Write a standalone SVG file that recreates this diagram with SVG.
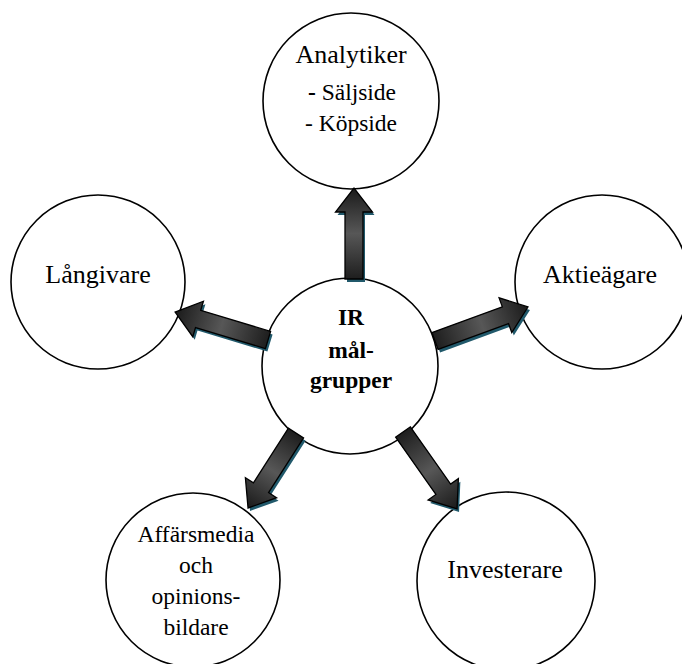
<svg xmlns="http://www.w3.org/2000/svg" width="682" height="664" viewBox="0 0 682 664">
  <defs>
    <linearGradient id="arrowFill" x1="0" y1="0" x2="1" y2="0">
      <stop offset="0" stop-color="#1e1e1e"/>
      <stop offset="0.5" stop-color="#575757"/>
      <stop offset="1" stop-color="#1a1a1a"/>
    </linearGradient>
  </defs>
  <style>
    .node circle { fill: #ffffff; stroke: #000000; stroke-width: 1.6; }
    .label { font-family: "Liberation Serif", "Times New Roman", serif; fill: #000000; text-anchor: middle; }
    .big { font-size: 26px; }
    .mid { font-size: 23.5px; }
    .hub { font-size: 23.5px; font-weight: bold; }
    .arrow { fill: url(#arrowFill); stroke: #000000; stroke-width: 1.3; stroke-linejoin: miter; }
    .shadow { fill: #21596b; stroke: none; }
  </style>
  <rect width="682" height="664" fill="#ffffff"/>

  <g id="analytiker" class="node">
    <circle cx="351" cy="101" r="88"/>
    <text class="label big" x="351" y="63">Analytiker</text>
    <text class="label mid" x="352" y="100"><tspan font-weight="bold">-</tspan> Säljside</text>
    <text class="label mid" x="351" y="131">- Köpside</text>
  </g>

  <g id="langivare" class="node">
    <circle cx="98" cy="282" r="87"/>
    <text class="label big" x="98" y="283">Långivare</text>
  </g>

  <g id="aktieagare" class="node">
    <circle cx="602" cy="282" r="87"/>
    <text class="label big" x="600" y="283">Aktieägare</text>
  </g>

  <g id="affarsmedia" class="node">
    <circle cx="193" cy="580" r="87"/>
    <text class="label mid" x="196" y="542">Affärsmedia</text>
    <text class="label mid" x="196" y="573">och</text>
    <text class="label mid" x="196" y="604">opinions-</text>
    <text class="label mid" x="196" y="635">bildare</text>
  </g>

  <g id="investerare" class="node">
    <circle cx="506" cy="581" r="89"/>
    <text class="label big" x="505" y="578">Investerare</text>
  </g>

  <g id="ir-malgrupper" class="node">
    <circle cx="350" cy="366" r="88"/>
    <text class="label hub" x="351" y="325">IR</text>
    <text class="label hub" x="351" y="358">mål-</text>
    <text class="label hub" x="351" y="388">grupper</text>
  </g>

  <g id="connectors">
    <!-- each block arrow: tail at local origin, pointing along +x -->
    <g transform="translate(2,3)">
      <path class="shadow" transform="translate(354,279) rotate(-90)" d="M0,-9 L67,-9 L67,-18.5 L91,0 L67,18.5 L67,9 L0,9 Z"/>
      <path class="shadow" transform="translate(268,340) rotate(196.75)" d="M0,-9 L73,-9 L73,-18.5 L97,0 L73,18.5 L73,9 L0,9 Z"/>
      <path class="shadow" transform="translate(435,341) rotate(-20.1)" d="M0,-9 L75,-9 L75,-18.5 L99,0 L75,18.5 L75,9 L0,9 Z"/>
      <path class="shadow" transform="translate(296,433) rotate(122.6)" d="M0,-9 L65,-9 L65,-18.5 L89,0 L65,18.5 L65,9 L0,9 Z"/>
      <path class="shadow" transform="translate(403,432) rotate(54.9)" d="M0,-9 L70,-9 L70,-18.5 L94,0 L70,18.5 L70,9 L0,9 Z"/>
    </g>
    <path class="arrow" transform="translate(354,279) rotate(-90)" d="M0,-9 L67,-9 L67,-18.5 L91,0 L67,18.5 L67,9 L0,9 Z"/>
    <path class="arrow" transform="translate(268,340) rotate(196.75)" d="M0,-9 L73,-9 L73,-18.5 L97,0 L73,18.5 L73,9 L0,9 Z"/>
    <path class="arrow" transform="translate(435,341) rotate(-20.1)" d="M0,-9 L75,-9 L75,-18.5 L99,0 L75,18.5 L75,9 L0,9 Z"/>
    <path class="arrow" transform="translate(296,433) rotate(122.6)" d="M0,-9 L65,-9 L65,-18.5 L89,0 L65,18.5 L65,9 L0,9 Z"/>
    <path class="arrow" transform="translate(403,432) rotate(54.9)" d="M0,-9 L70,-9 L70,-18.5 L94,0 L70,18.5 L70,9 L0,9 Z"/>
  </g>
</svg>
